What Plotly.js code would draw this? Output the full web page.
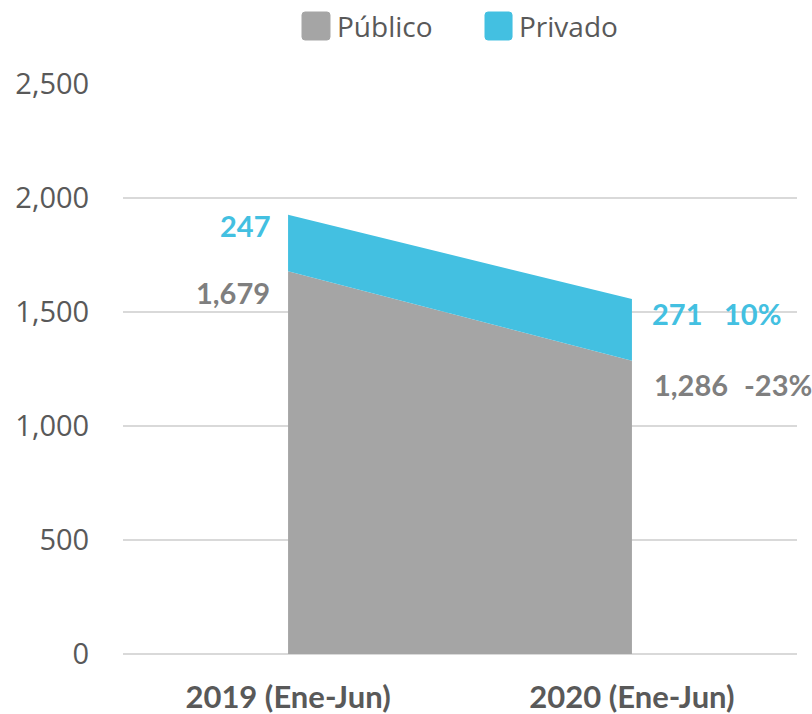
<!DOCTYPE html>
<html>
<head>
<meta charset="utf-8">
<script src="https://cdn.plot.ly/plotly-3.0.1.min.js"></script>
<style>html,body{margin:0;padding:0;background:#fff;}#chart{width:812px;height:714px;}</style>
</head>
<body>
<div id="chart"></div>
<script>
const categories = ["2019 (Ene-Jun)", "2020 (Ene-Jun)"];
const publico = [1679, 1286];
const privado = [247, 271];
const seriesNames = ["Público", "Privado"];
const yTicks = [0, 500, 1000, 1500, 2000, 2500];

const grey = "#A5A5A5";
const blue = "#43C0E1";
const greyText = "#7F7F7F";
const axisText = "#595959";
const boldFont = "Lato, 'Open Sans', sans-serif";
const regFont = "'Open Sans', Lato, sans-serif";

const fmt = v => v.toLocaleString("en-US");
const pct = (a, b) => Math.round((b / a - 1) * 100) + "%";

const traces = [
  {x: categories, y: publico, name: seriesNames[0], type: "scatter", mode: "none",
   stackgroup: "one", fillcolor: grey, line: {width: 0}, showlegend: false},
  {x: categories, y: privado, name: seriesNames[1], type: "scatter", mode: "none",
   stackgroup: "one", fillcolor: blue, line: {width: 0}, showlegend: false}
];

const annFont = (c) => ({family: boldFont, size: 29, color: c, weight: "bold"});
const annotations = [
  {x: categories[0], y: publico[0] + privado[0], text: "<b>" + fmt(privado[0]) + "</b>", xanchor: "right", yanchor: "middle",
   xshift: -16, yshift: -11, showarrow: false, font: annFont(blue)},
  {x: categories[0], y: publico[0], text: "<b>" + fmt(publico[0]) + "</b>", xanchor: "right", yanchor: "middle",
   xshift: -16, yshift: -21, showarrow: false, font: annFont(greyText)},
  {x: categories[1], y: publico[1] + privado[1], text: "<b>" + fmt(privado[1]) + "</b>", xanchor: "left", yanchor: "middle",
   xshift: 18, yshift: -14, showarrow: false, font: annFont(blue)},
  {x: categories[1], y: publico[1] + privado[1], text: "<b>" + pct(privado[0], privado[1]) + "</b>", xanchor: "left", yanchor: "middle",
   xshift: 90, yshift: -14, showarrow: false, font: annFont(blue)},
  {x: categories[1], y: publico[1], text: "<b>" + fmt(publico[1]) + "</b>", xanchor: "left", yanchor: "middle",
   xshift: 20, yshift: -24, showarrow: false, font: annFont(greyText)},
  {x: categories[1], y: publico[1], text: "<b>" + pct(publico[0], publico[1]) + "</b>", xanchor: "left", yanchor: "middle",
   xshift: 110, yshift: -24, showarrow: false, font: annFont(greyText)}
];

// manual legend (large rounded squares like the reference)
const legendItems = [
  {name: seriesNames[0], color: grey, x0: 0.2656, x1: 0.3071, tx: 0.3145},
  {name: seriesNames[1], color: blue, x0: 0.5371, x1: 0.5772, tx: 0.5846}
];
const ly0 = 1.0772, ly1 = 1.1263, rx = 0.0045, ry = 0.0053;
const shapes = [];
legendItems.forEach(it => {
  const p = `M${it.x0 + rx},${ly0} L${it.x1 - rx},${ly0} Q${it.x1},${ly0} ${it.x1},${ly0 + ry} ` +
            `L${it.x1},${ly1 - ry} Q${it.x1},${ly1} ${it.x1 - rx},${ly1} L${it.x0 + rx},${ly1} ` +
            `Q${it.x0},${ly1} ${it.x0},${ly1 - ry} L${it.x0},${ly0 + ry} Q${it.x0},${ly0} ${it.x0 + rx},${ly0} Z`;
  shapes.push({type: "path", xref: "paper", yref: "paper", path: p,
               fillcolor: it.color, line: {color: it.color, width: 1}});
  annotations.push({xref: "paper", yref: "paper", x: it.tx, y: 1.1018, xanchor: "left", yanchor: "middle",
                    text: it.name, showarrow: false, font: {family: regFont, size: 28, color: axisText}});
});

const layout = {
  width: 812, height: 714,
  margin: {l: 123, r: 15, t: 84, b: 60},
  paper_bgcolor: "#fff", plot_bgcolor: "#fff",
  font: {family: regFont, color: axisText},
  showlegend: false,
  xaxis: {type: "category", range: [-0.48, 1.48], showgrid: false, zeroline: false, showline: false,
          ticks: "outside", ticklen: 16, tickcolor: "rgba(0,0,0,0)",
          tickfont: {family: boldFont, size: 31, color: axisText, weight: "bold"}},
  yaxis: {range: [0, 2500], tickvals: yTicks, ticktext: yTicks.map(fmt), showgrid: true,
          gridcolor: "#D9D9D9", gridwidth: 1.3, zeroline: true, zerolinecolor: "#D9D9D9", zerolinewidth: 1.3,
          showline: false, ticks: "outside", ticklen: 27, tickcolor: "rgba(0,0,0,0)",
          tickfont: {family: regFont, size: 29, color: axisText}},
  shapes: shapes,
  annotations: annotations
};

Plotly.newPlot("chart", traces, layout, {displayModeBar: false, staticPlot: true});
</script>
</body>
</html>
